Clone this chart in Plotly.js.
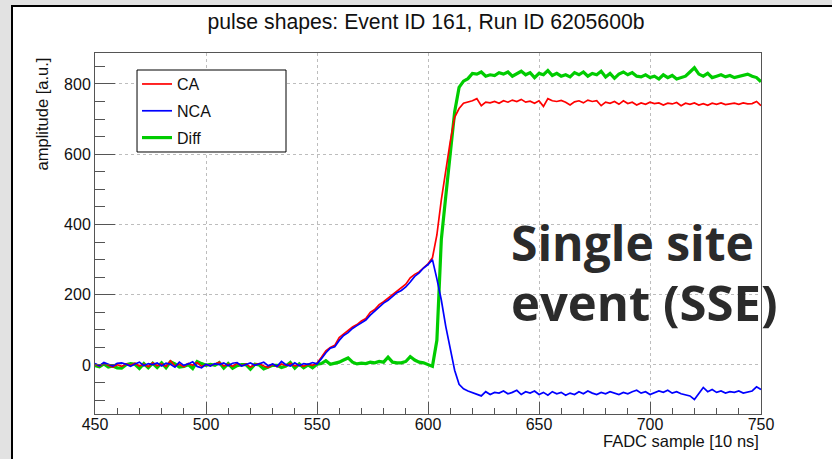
<!DOCTYPE html>
<html>
<head>
<meta charset="utf-8">
<script src="https://cdn.plot.ly/plotly-3.0.1.min.js"></script>
<style>
  html, body { margin:0; padding:0; width:832px; height:459px; overflow:hidden; background:#e2e2e2; }
  #frame { position:absolute; left:11px; top:5px; width:819px; height:452px;
           border-left:2px solid #000; border-top:2px solid #000; background:#fff; }
  #plot { width:819px; height:452px; }
</style>
</head>
<body>
<div id="frame"><div id="plot"></div></div>
<script>
// FADC samples: first sample and spacing between stored samples
const sampleStart = 450;
const sampleStep = 2;

const seriesNames = ['CA', 'NCA', 'Diff'];

const ca = [
  2,-3,4,-2,-6, 1,-4,3,-1,5, -3,2,-5,6,-2, 3,-4,12,-3,2, -5,4,-1,7,-4, 1,-2,3,8,-3,
  2,-4,5,-2,3, -6,1,4,-3,-7, 2,-5,3,-2,4, -3,1,-4,2,-1, 5,
  22,40,50,56,78, 88,100,108,115,125, 132,150,158,172,180, 190,198,210,218,230, 248,258,265,278,288,
  305,370,470,555,635,705,730,745,748,752,
  758,738,748,746,750,745,752,748,754,750, 756,748,751,745,752,736,758,752,750,753,
  748,740,749,752,746,754,750,752,738,748, 745,750,742,752,744,748,740,746,742,748,
  744,746,740,745,743,747,738,745,742,746, 740,744,739,745,742,746,741,744,745,742,
  746,743,744,750,738
];

const nca = [
  4,-2,7,1,-3, 5,6,2,-4,3, 8,-2,4,1,6, -3,5,2,-6,8, -1,3,9,-4,-8, 2,-3,4,1,6,
  -2,5,7,-3,2, 6,-1,4,8,-2, 3,-4,10,1,-3, 6,-2,4,2,7, 3,
  18,35,48,52,70, 84,92,104,112,120, 128,142,154,166,176, 184,196,206,212,222, 236,252,262,276,286,
  300,245,185,110,45,-15,-55,-68,-74,-78,
  -82,-88,-76,-84,-78,-80,-74,-82,-78,-72, -84,-76,-80,-74,-84,-78,-86,-76,-82,-78,
  -86,-80,-84,-76,-82,-74,-80,-84,-78,-82, -76,-80,-84,-78,-82,-76,-72,-80,-76,-84,
  -78,-74,-78,-72,-80,-76,-82,-86,-88,-98, -80,-64,-76,-70,-78,-74,-80,-76,-78,-74,
  -80,-76,-74,-62,-70
];

const diff = [
  -2,-5,3,-6,-3, -8,-9,1,4,2, -10,4,-8,5,-7, 6,-8,9,3,-6, -4,1,-10,10,4, -1,2,-1,7,-9,
  4,-9,-2,1,1, -12,2,0,-11,-5, -1,-1,-7,-3,7, -9,3,-8,0,-8, 2,
  4,12,2,4,8, 14,20,8,3,5, 4,8,6,10,8, 22,8,6,6,10, 24,14,8,6,2,
  -4,70,357,480,600,720,790,808,815,830,
  828,834,822,826,824,832,828,834,822,830, 836,826,832,818,830,826,838,824,830,822,
  826,820,832,826,834,822,830,826,836,820, 830,816,828,834,826,832,822,820,826,818,
  822,814,826,818,824,814,818,822,834,846, 828,822,830,818,822,826,820,824,818,822,
  826,828,822,818,806
];

const titleText = 'pulse shapes: Event ID 161, Run ID 6205600b';
const xTitle = 'FADC sample [10 ns]';
const yTitle = 'amplitude [a.u.]';
const noteLines = ['Single site', 'event (SSE)'];

const FONT = 'Liberation Sans, Arial, Helvetica, sans-serif';
const NOTE_FONT = 'Open Sans, Noto Sans, sans-serif';

function tr(y, name, color, width, rank) {
  return {
    type: 'scatter', mode: 'lines', name: name, y: y,
    x0: sampleStart, dx: sampleStep,
    line: { color: color, width: width },
    legendgroup: name, legendrank: rank, hoverinfo: 'skip'
  };
}

const data = [
  tr(diff, seriesNames[2], '#00cc00', 3.2, 3),
  tr(ca, seriesNames[0], '#ff0000', 1.7, 1),
  tr(nca, seriesNames[1], '#0000ff', 1.7, 2)
];

const axisCol = '#555';
const layout = {
  width: 819, height: 452,
  margin: { l: 82, r: 71, t: 46, b: 45 },
  paper_bgcolor: '#fff', plot_bgcolor: '#fff',
  font: { family: FONT, color: '#111', size: 16 },
  showlegend: true,
  legend: {
    x: 0.0631, y: 0.961, xanchor: 'left', yanchor: 'top',
    bgcolor: 'rgba(0,0,0,0)', borderwidth: 0,
    font: { family: FONT, size: 16, color: '#111' },
    tracegroupgap: 3, traceorder: 'grouped'
  },
  title: {
    text: titleText, font: { family: FONT, size: 21.2, color: '#111' },
    xref: 'paper', x: 0.497, xanchor: 'center',
    yref: 'container', y: 0.967, yanchor: 'middle'
  },
  xaxis: {
    range: [450, 750], tick0: 450, dtick: 50,
    ticks: 'inside', ticklen: 12, tickwidth: 1, tickcolor: axisCol,
    ticklabelstandoff: -4,
    showline: true, linecolor: axisCol, linewidth: 1, mirror: true,
    showgrid: true, gridcolor: '#bdbdbd', griddash: 'dot', gridwidth: 1,
    zeroline: false,
    minor: { dtick: 10, ticks: 'inside', ticklen: 6, tickcolor: axisCol, showgrid: false },
    tickfont: { family: FONT, size: 16, color: '#111' }
  },
  yaxis: {
    range: [-139.5, 888], tick0: 0, dtick: 200,
    ticks: 'inside', ticklen: 20, tickwidth: 1, tickcolor: axisCol,
    showline: true, linecolor: axisCol, linewidth: 1, mirror: true,
    showgrid: true, gridcolor: '#bdbdbd', griddash: 'dot', gridwidth: 1,
    zeroline: false,
    minor: { dtick: 50, ticks: 'inside', ticklen: 10, tickcolor: axisCol, showgrid: false },
    tickfont: { family: FONT, size: 16, color: '#111' }
  },
  shapes: [
    { type: 'rect', xref: 'paper', yref: 'paper', x0: 0.0631, x1: 0.2868, y0: 0.7258, y1: 0.9529,
      line: { color: '#000', width: 1 }, fillcolor: '#fff', layer: 'above' }
  ],
  annotations: [
    { text: yTitle, xref: 'paper', yref: 'paper', x: -0.0796, y: 0.9945,
      xanchor: 'center', yanchor: 'top', textangle: -90, showarrow: false,
      font: { family: FONT, size: 16.5, color: '#111' } },
    { text: xTitle, xref: 'paper', yref: 'paper', x: 1, y: -0.0748,
      xanchor: 'right', yanchor: 'middle', showarrow: false,
      font: { family: FONT, size: 16.5, color: '#111' } },
    { text: noteLines[0], xref: 'paper', yref: 'paper', x: 0.6215, y: 0.4737,
      xanchor: 'left', yanchor: 'middle', showarrow: false,
      font: { family: NOTE_FONT, size: 48, color: '#2b2b2b', weight: 'bold' } },
    { text: noteLines[1], xref: 'paper', yref: 'paper', x: 0.6215, y: 0.3102,
      xanchor: 'left', yanchor: 'middle', showarrow: false,
      font: { family: NOTE_FONT, size: 49, color: '#2b2b2b', weight: 'bold' } }
  ]
};

Plotly.newPlot('plot', data, layout, { staticPlot: true, displayModeBar: false });
</script>
</body>
</html>
